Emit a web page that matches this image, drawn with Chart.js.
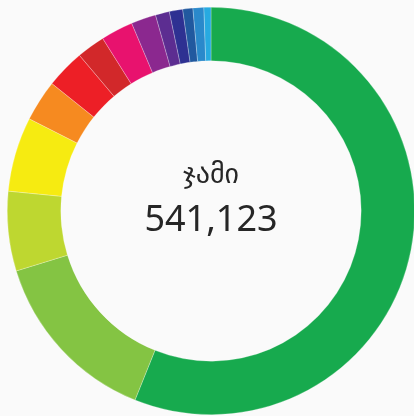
<!DOCTYPE html>
<html>
<head>
<meta charset="utf-8">
<script src="https://cdn.jsdelivr.net/npm/chart.js@4.4.0/dist/chart.umd.min.js"></script>
<style>
	html, body { margin: 0; padding: 0; background: #fafafa; overflow: hidden; width: 414px; height: 416px; }
	#wrap { position: absolute; left: 7px; top: 7px; width: 408px; height: 408px; }
</style>
</head>
<body>
<div id="wrap"><canvas id="canvasjami"></canvas></div>
<script>

var jami_label = "ჯამი";
var jami_total = "541,123";

var kategoriebi = [
	"1", "2", "3", "4", "5", "6", "7",
	"8", "9", "10", "11", "12", "13", "14"
];

var mnishvnelobebi = [
	303482, 76660, 34120, 32015, 17737, 16685, 12175,
	13829, 10671, 6012, 5712, 4359, 4660, 3006
];

var ferebi = [
	"#17aa4e",
	"#84c443",
	"#bed730",
	"#f6eb11",
	"#f68a20",
	"#ed1f26",
	"#d2282a",
	"#e8126e",
	"#8b288f",
	"#5c2d91",
	"#2e3192",
	"#21599f",
	"#2a89cb",
	"#27aae1"
];

function init_chart_jami(){

	if( typeof (Chart) === 'undefined'){ return; }

	var center_text = {
		id: 'center_text',
		afterDraw: function(chart){
			var ctx = chart.ctx;
			var cx = (chart.chartArea.left + chart.chartArea.right) / 2;
			var cy = (chart.chartArea.top + chart.chartArea.bottom) / 2;
			ctx.save();
			ctx.fillStyle = "#262626";
			ctx.textAlign = "center";
			ctx.textBaseline = "middle";
			ctx.font = "28px 'DejaVu Sans', sans-serif";
			ctx.fillText(jami_label, cx, cy - 35);
			ctx.font = "36px 'Noto Sans', 'DejaVu Sans', sans-serif";
			ctx.fillText(jami_total, cx, cy + 10);
			ctx.restore();
		}
	};

	var chart_doughnut_settings = {
		type: 'doughnut',
		data: {
			labels: kategoriebi,
			datasets: [{
				data: mnishvnelobebi,
				backgroundColor: ferebi,
				borderColor: "rgba(255,255,255,0.5)",
				borderWidth: 0.5
			}]
		},
		options: {
			responsive: true,
			maintainAspectRatio: false,
			animation: false,
			cutout: '73.7%',
			layout: { padding: 0 },
			plugins: {
				legend: { display: false },
				tooltip: { enabled: false }
			}
		},
		plugins: [center_text]
	};

	var chart_element = document.getElementById('canvasjami');
	var chart_doughnut = new Chart(chart_element, chart_doughnut_settings);

}

init_chart_jami();

</script>
</body>
</html>
